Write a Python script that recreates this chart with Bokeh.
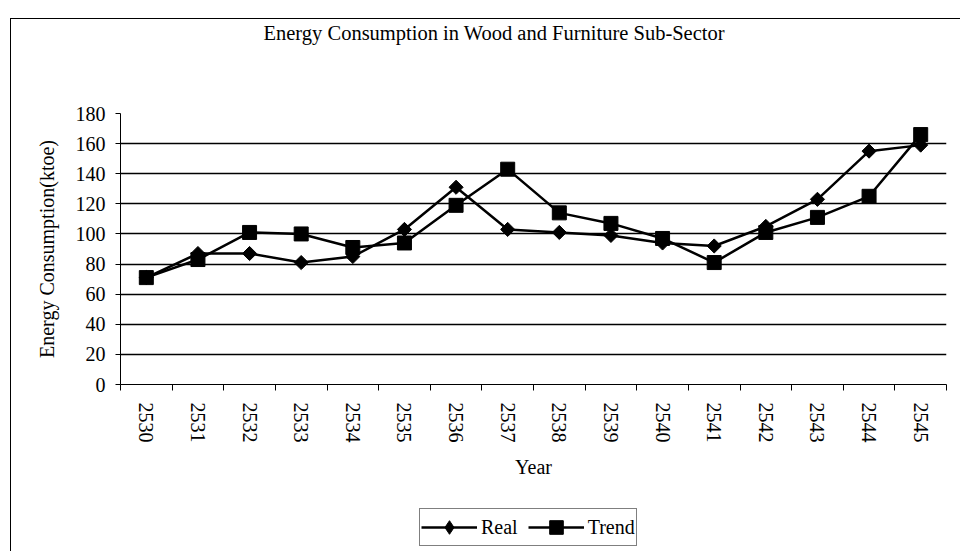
import numpy as np
from bokeh.plotting import figure
from bokeh.layouts import column
from bokeh.models import (FixedTicker, Legend, LegendItem, Range1d, ColumnDataSource,
                          Title)
from bokeh.embed import file_html
from bokeh.resources import INLINE

years = ["2530", "2531", "2532", "2533", "2534", "2535", "2536", "2537",
         "2538", "2539", "2540", "2541", "2542", "2543", "2544", "2545"]
real = [71, 87, 87, 81, 85, 103, 131, 103, 101, 99, 94, 92, 105, 123, 155, 159]
trend = [71, 83, 101, 100, 91, 94, 119, 143, 114, 107, 97, 81, 101, 111, 125, 166]
y_ticks = [0, 20, 40, 60, 80, 100, 120, 140, 160, 180]

FONT = "Liberation Serif"
n = len(years)
xpos = [i + 0.5 for i in range(n)]
src = ColumnDataSource(dict(x=xpos, real=real, trend=trend, year=years))

W = 949
H_MAIN = 461
H_LEG = 71

p = figure(width=W, height=H_MAIN, output_backend="svg", toolbar_location=None,
           x_range=Range1d(0, n), y_range=Range1d(y_ticks[0], y_ticks[-1]),
           min_border_left=109, min_border_right=14, min_border_top=92,
           min_border_bottom=92)
p.outline_line_color = None
p.background_fill_color = "white"
p.border_fill_color = "white"
p.title.text = ""

xax = p.xaxis[0]
yax = p.yaxis[0]

# x axis
xax.ticker = FixedTicker(ticks=xpos, minor_ticks=list(range(n + 1)))
xax.major_label_overrides = {xv: yr for xv, yr in zip(xpos, years)}
xax.major_label_orientation = "vertical"
xax.major_tick_line_color = None
xax.minor_tick_in = 0
xax.minor_tick_out = 6
xax.minor_tick_line_color = "black"
xax.axis_line_color = "black"
xax.major_label_standoff = 12
xax.major_label_text_font = FONT
xax.major_label_text_font_size = "20px"
xax.major_label_text_color = "black"
xax.axis_label = "Year"
xax.axis_label_text_font = FONT
xax.axis_label_text_font_size = "20px"
xax.axis_label_text_font_style = "normal"
xax.axis_label_text_color = "black"
xax.axis_label_standoff = 10

# y axis
yax.ticker = FixedTicker(ticks=y_ticks)
yax.major_tick_in = 0
yax.major_tick_out = 5
yax.minor_tick_line_color = None
yax.axis_line_color = "black"
yax.major_label_standoff = 10
yax.major_label_text_font = FONT
yax.major_label_text_font_size = "20px"
yax.major_label_text_color = "black"
yax.axis_label = "Energy Consumption(ktoe)"
yax.axis_label_text_font = FONT
yax.axis_label_text_font_size = "20px"
yax.axis_label_text_font_style = "normal"
yax.axis_label_text_color = "black"
yax.axis_label_standoff = 15

p.xgrid.grid_line_color = None
p.ygrid.ticker = FixedTicker(ticks=y_ticks)
p.ygrid.grid_line_color = "black"
p.ygrid.grid_line_width = 1.5

# title, held away from the plot frame by an empty spacer panel
p.add_layout(Title(text=" ", text_font_size="1px", standoff=67), "above")
title = Title(text="Energy Consumption in Wood and Furniture Sub-Sector",
              text_font=FONT, text_font_size="20.5px", text_font_style="normal",
              align="left", offset=143, standoff=0, text_color="black")
p.add_layout(title, "above")

p.line("x", "real", source=src, line_color="black", line_width=2.5)
p.scatter("x", "real", source=src, marker="square", angle=np.pi / 4, size=10,
          fill_color="black", line_color="black")
p.line("x", "trend", source=src, line_color="black", line_width=2.5)
p.scatter("x", "trend", source=src, marker="square", size=14,
          fill_color="black", line_color="black")

# legend strip below the chart (its glyphs lie outside its own visible range)
lf = figure(width=W, height=H_LEG, output_backend="svg", toolbar_location=None,
            x_range=Range1d(1000, 1001), y_range=Range1d(1000, 1001),
            x_axis_type=None, y_axis_type=None,
            min_border_left=0, min_border_right=0, min_border_top=0,
            min_border_bottom=0)
lf.outline_line_color = None
lf.grid.grid_line_color = None
lf.title.text = ""
ll1 = lf.line("x", "real", source=src, line_color="black", line_width=2.5)
ld1 = lf.scatter("x", "real", source=src, marker="diamond", size=14,
                 fill_color="black", line_color="black")
ll2 = lf.line("x", "trend", source=src, line_color="black", line_width=2.5)
ls2 = lf.scatter("x", "trend", source=src, marker="square", size=14,
                 fill_color="black", line_color="black")

legend = Legend(items=[LegendItem(label="Real", renderers=[ll1, ld1]),
                       LegendItem(label="Trend", renderers=[ll2, ls2])],
                orientation="horizontal", location=(299, 5))
legend.label_text_font = FONT
legend.label_text_font_size = "20px"
legend.label_text_color = "black"
legend.border_line_color = "black"
legend.border_line_width = 1
legend.glyph_width = 56
legend.glyph_height = 34
legend.padding = 1
legend.spacing = 10
legend.label_standoff = 4
legend.margin = 0
legend.background_fill_alpha = 1
lf.add_layout(legend, "center")

layout = column(p, lf, spacing=0)
layout.styles = {"margin-left": "10px", "margin-top": "18px",
                 "border-left": "1px solid black", "border-top": "1px solid black"}

open("out.html", "w").write(file_html(layout, INLINE))
